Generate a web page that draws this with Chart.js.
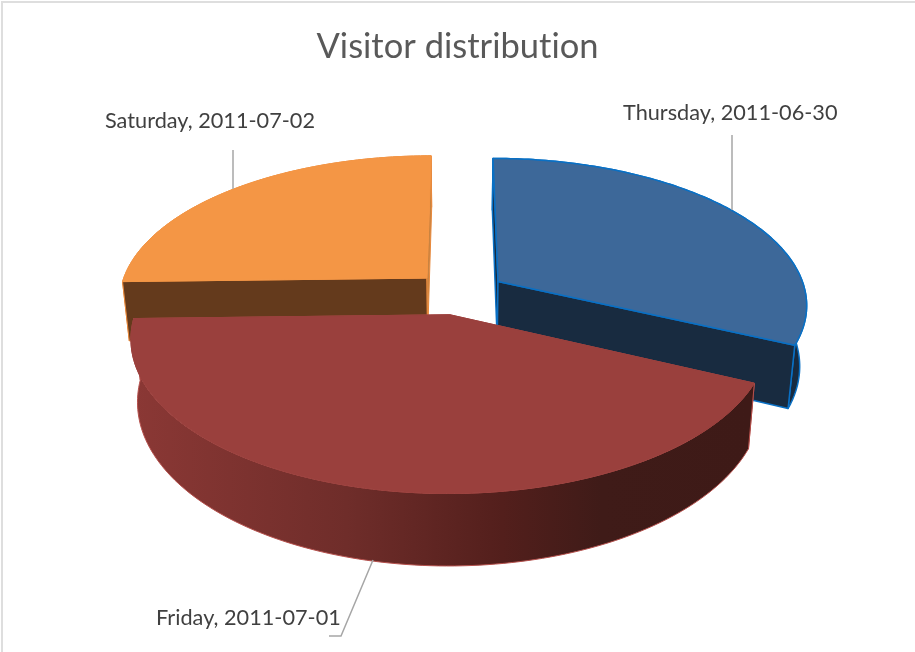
<!DOCTYPE html>
<html>
<head>
<meta charset="utf-8">
<style>
  html, body { margin: 0; padding: 0; background: #fff; }
  canvas { display: block; }
</style>
<script src="https://cdn.jsdelivr.net/npm/chart.js@4"></script>
</head>
<body>
<canvas id="pie" width="915" height="652"></canvas>
<script>
// values, in percent
const days = ['Thursday, 2011-06-30', 'Friday, 2011-07-01', 'Saturday, 2011-07-02'];
const visitors = [31.95, 42.65, 25.4];

// slice styles
const topColors = ['#3D6899', '#9A403D', '#F49645'];
const edgeColors = ['#0A70C4', '#B5504C', '#E8893C'];
const edgeWidths = [1.5, 1, 1];
const topEdgeColors = ['#0A70C4', '#9A403D', '#F49645'];
const startWallColors = ['#182B40', '#3E1A17', '#643A1C'];
const endWallColors = ['#182B40', '#3E1A17', '#C98340'];
const outerStops = [
  [[0, '#182B40'], [1, '#182B40']],
  [[0, '#8B3835'], [0.35, '#6F2D2A'], [0.6, '#531F1C'], [0.76, '#3F1B18'], [1, '#3E1A17']],
  [[0, '#F49645'], [1, '#F49645']]
];

// fake camera for the 3D look
const view = { cx: 459.5, cy: 293, R: 308, tilt: 0.47, persp: 0.15, depth: 60, bottomScale: 0.98, explode: 0.15 };

// label text positions and their leader lines
const labelPos = [[623, 113], [156, 618], [105, 121]];
const leaders = [
  [[732, 135], [732, 210]],
  [[373, 560], [341, 636], [329, 636]],
  [[233, 150], [233, 189]]
];

function project(x, y, low) {
  const w = 1 - view.persp * y;
  let u = view.cx + view.R * x / w;
  let v = view.cy + view.R * view.tilt * y / w;
  if (low) {
    u = view.cx + (u - view.cx) * view.bottomScale;
    v += view.depth / w;
  }
  return [u, v];
}

function trace(ctx, pts) {
  ctx.beginPath();
  pts.forEach((p, i) => i ? ctx.lineTo(p[0], p[1]) : ctx.moveTo(p[0], p[1]));
  ctx.closePath();
}

function drawSlice(ctx, arc, i) {
  // arc angles come from the chart, 0 = top, clockwise
  const a0 = arc.startAngle + Math.PI / 2;
  const a1 = arc.endAngle + Math.PI / 2;
  const mid = (a0 + a1) / 2;
  const ox = Math.sin(mid) * view.explode;
  const oy = -Math.cos(mid) * view.explode;
  const rim = [];
  for (let n = 0; n <= 120; n++) {
    const a = a0 + (a1 - a0) * n / 120;
    rim.push([ox + Math.sin(a), oy - Math.cos(a)]);
  }
  const rimTop = rim.map(p => project(p[0], p[1], false));
  const rimLow = rim.map(p => project(p[0], p[1], true));
  const apexTop = project(ox, oy, false);
  const apexLow = project(ox, oy, true);
  const last = rim.length - 1;

  // a cut wall only counts as in front when its normal points at the camera
  const facing = (nx, ny) => nx * -ox + ny * (1 / view.persp - oy) > 0;
  const walls = [
    { front: facing(-Math.cos(a0), -Math.sin(a0)), end: 0, color: startWallColors[i] },
    { front: facing(Math.cos(a1), Math.sin(a1)), end: last, color: endWallColors[i] }
  ];
  const drawWall = w => {
    ctx.fillStyle = w.color;
    trace(ctx, [apexTop, rimTop[w.end], rimLow[w.end], apexLow]);
    ctx.fill();
    ctx.stroke();
  };

  ctx.lineJoin = 'round';
  ctx.strokeStyle = edgeColors[i];
  ctx.lineWidth = edgeWidths[i];

  walls.filter(w => !w.front).forEach(drawWall);

  // outer wall
  const g = ctx.createLinearGradient(130, 0, 750, 0);
  outerStops[i].forEach(s => g.addColorStop(s[0], s[1]));
  ctx.fillStyle = g;
  trace(ctx, rimTop.concat(rimLow.slice().reverse()));
  ctx.fill();
  ctx.stroke();

  walls.filter(w => w.front).forEach(drawWall);

  // top face
  ctx.fillStyle = topColors[i];
  ctx.strokeStyle = topEdgeColors[i];
  trace(ctx, [apexTop].concat(rimTop));
  ctx.fill();
  ctx.stroke();
}

const pie3d = {
  id: 'pie3d',
  beforeDraw(chart) {
    const ctx = chart.ctx;
    // turns off the Lato "ti" ligature in the title
    ctx.letterSpacing = '0.01px';
    ctx.save();
    ctx.fillStyle = '#DEDEDE';
    ctx.fillRect(1, 1, 914, 2);
    ctx.fillRect(1, 1, 2, 651);
    ctx.restore();
  },
  beforeDatasetsDraw(chart) {
    const ctx = chart.ctx;
    const arcs = chart.getDatasetMeta(0).data;
    // back slices first
    const order = arcs.map((a, i) => i).sort((p, q) => {
      const m = i => (arcs[i].startAngle + arcs[i].endAngle) / 2 + Math.PI / 2;
      return -Math.cos(m(p)) - -Math.cos(m(q));
    });
    ctx.save();
    order.forEach(i => drawSlice(ctx, arcs[i], i));
    ctx.restore();
    return false;
  },
  afterDraw(chart) {
    const ctx = chart.ctx;
    ctx.save();
    ctx.strokeStyle = '#A6A6A6';
    ctx.lineWidth = 1.5;
    leaders.forEach(line => {
      ctx.beginPath();
      line.forEach((p, n) => n ? ctx.lineTo(p[0], p[1]) : ctx.moveTo(p[0], p[1]));
      ctx.stroke();
    });
    ctx.fillStyle = '#404040';
    ctx.font = '21.7px Lato';
    ctx.textBaseline = 'middle';
    days.forEach((d, i) => ctx.fillText(d, labelPos[i][0], labelPos[i][1]));
    ctx.restore();
  }
};

new Chart(document.getElementById('pie').getContext('2d'), {
  type: 'pie',
  data: {
    labels: days,
    datasets: [{
      label: 'Visitors',
      data: visitors,
      backgroundColor: topColors,
      borderColor: edgeColors
    }]
  },
  options: {
    responsive: false,
    animation: false,
    plugins: {
      legend: { display: false },
      tooltip: { enabled: false },
      title: {
        display: true,
        text: 'Visitor distribution',
        color: '#595959',
        font: { family: 'Lato', size: 34.5, weight: 'normal' },
        padding: { top: 26, bottom: 10 }
      }
    }
  },
  plugins: [pie3d]
});
</script>
</body>
</html>
